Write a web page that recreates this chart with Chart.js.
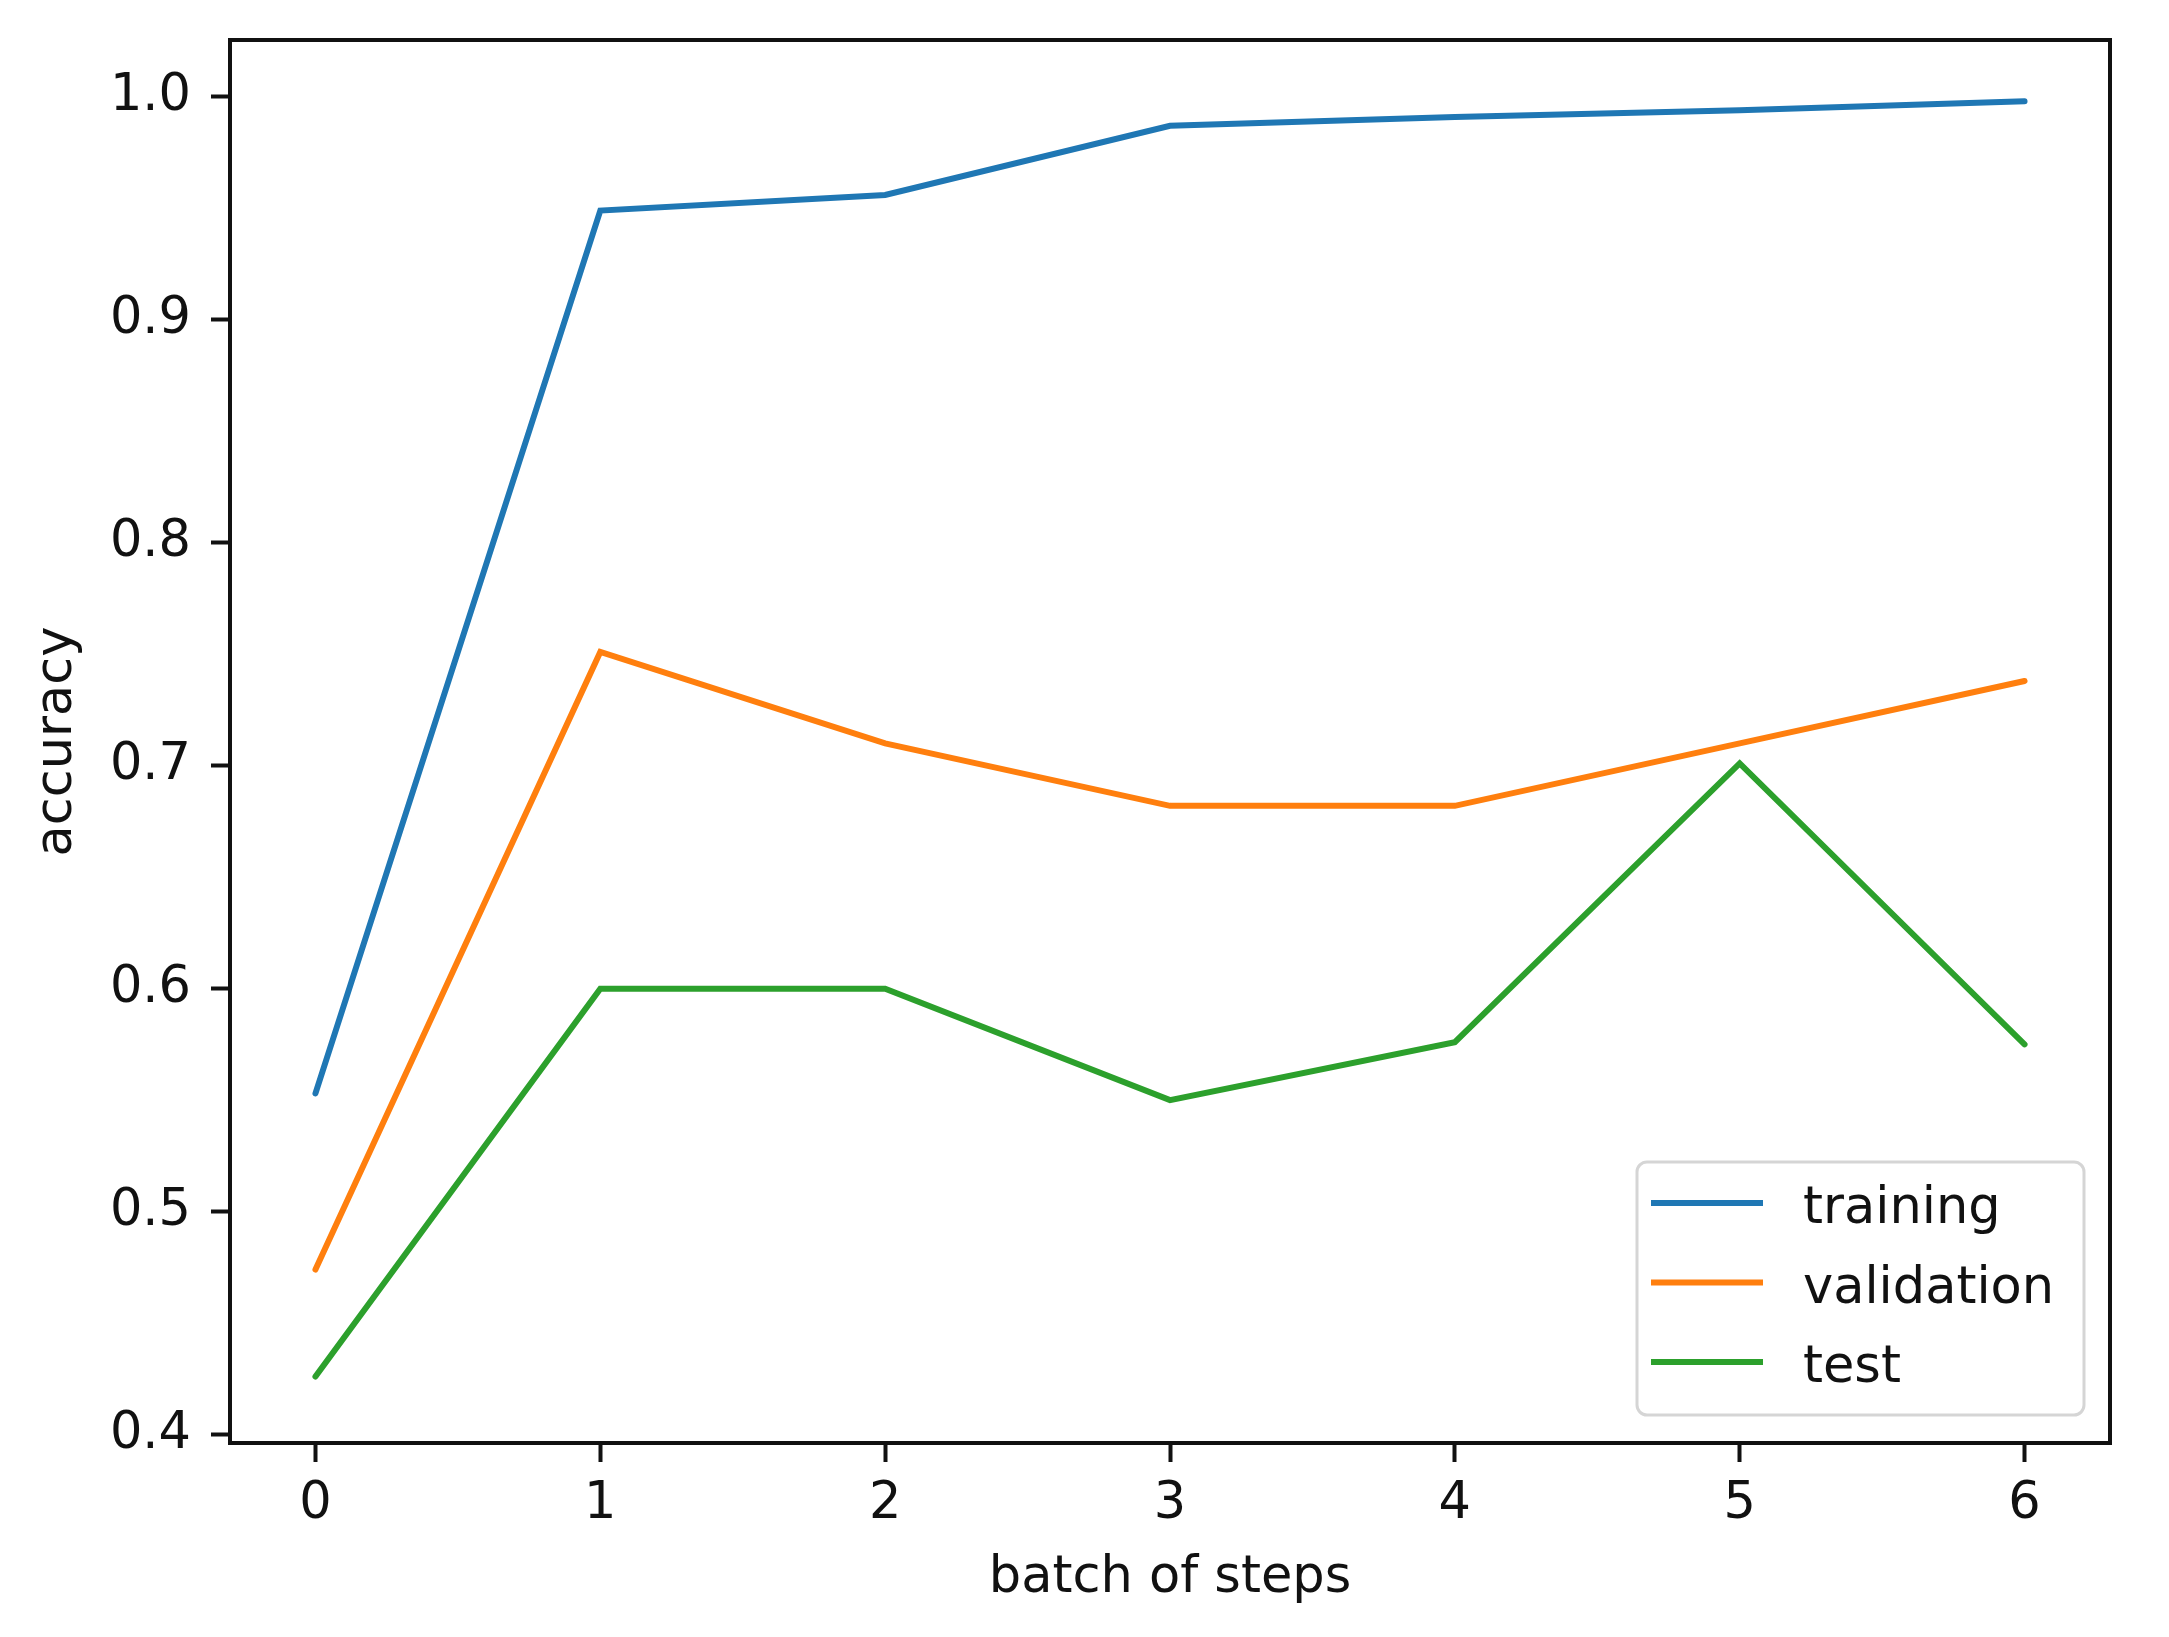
<!DOCTYPE html>
<html lang="en">
<head>
<meta charset="UTF-8">
<title>accuracy</title>
<script src="https://cdn.jsdelivr.net/npm/chart.js"></script>
<style>
  body { margin: 0; background: #fff; }
  canvas { display: block; }
</style>
</head>
<body>
<canvas id="myChart" width="2169" height="1637"></canvas>
<script>
// values
const steps = [0, 1, 2, 3, 4, 5, 6];
const training = [0.553, 0.949, 0.956, 0.987, 0.991, 0.994, 0.998];
const validation = [0.474, 0.751, 0.710, 0.682, 0.682, 0.710, 0.738];
const test = [0.426, 0.600, 0.600, 0.550, 0.576, 0.701, 0.575];
const yTicks = [0.4, 0.5, 0.6, 0.7, 0.8, 0.9, 1.0];

function pts(arr) {
    return steps.map(function (s, i) { return { x: s, y: arr[i] }; });
}

const font = { family: '"DejaVu Sans"', size: 51 };

// box round the plot, like matplotlib spines
const frame = {
    id: 'frame',
    afterDatasetsDraw(chart) {
        const c = chart.ctx, a = chart.chartArea;
        c.save();
        c.strokeStyle = '#111';
        c.lineWidth = 4;
        c.strokeRect(a.left, a.top, a.right - a.left, a.bottom - a.top);
        c.restore();
    }
};

// legend in lower right corner
const legendBox = {
    id: 'legendBox',
    afterDraw(chart) {
        const c = chart.ctx, a = chart.chartArea;
        const w = 447, h = 253;
        const x = a.right - 26 - w, y = a.bottom - 28 - h;
        c.save();
        c.beginPath();
        if (c.roundRect) c.roundRect(x, y, w, h, 10); else c.rect(x, y, w, h);
        c.fillStyle = 'rgba(255,255,255,0.8)';
        c.fill();
        c.strokeStyle = '#d5d5d5';
        c.lineWidth = 3;
        c.stroke();
        c.font = '51px "DejaVu Sans"';
        c.textBaseline = 'alphabetic';
        chart.data.datasets.forEach(function (ds, i) {
            const ry = y + 41 + i * 79.5;
            c.beginPath();
            c.moveTo(x + 14, ry);
            c.lineTo(x + 126, ry);
            c.strokeStyle = ds.borderColor;
            c.lineWidth = 6;
            c.stroke();
            c.fillStyle = '#111';
            c.fillText(ds.label, x + 166, ry + 20);
        });
        c.restore();
    }
};

new Chart(document.getElementById('myChart'), {
    type: 'line',
    data: {
        datasets: [
            { label: 'training', data: pts(training), borderColor: '#1f77b4' },
            { label: 'validation', data: pts(validation), borderColor: '#ff7f0e' },
            { label: 'test', data: pts(test), borderColor: '#2ca02c' }
        ]
    },
    options: {
        responsive: false,
        animation: false,
        devicePixelRatio: 1,
        layout: { padding: { top: 40, right: 59, left: 0, bottom: 0 } },
        plugins: { legend: { display: false }, tooltip: { enabled: false } },
        elements: {
            point: { radius: 0 },
            line: { borderWidth: 6, tension: 0, fill: false, borderCapStyle: 'round' }
        },
        scales: {
            x: {
                type: 'linear',
                min: -0.3,
                max: 6.3,
                afterBuildTicks: function (s) { s.ticks = steps.map(function (v) { return { value: v }; }); },
                afterFit: function (s) { s.height = 194; s.paddingLeft = 0; s.paddingRight = 0; },
                ticks: { font: font, color: '#111', padding: 12, maxRotation: 0, autoSkip: false },
                grid: { drawOnChartArea: false, tickLength: 19, tickWidth: 4, tickColor: '#111' },
                border: { color: '#111', width: 4 },
                title: { display: true, text: 'batch of steps', font: font, color: '#111', padding: { top: 0, bottom: 28 } }
            },
            y: {
                type: 'linear',
                min: 0.3962,
                max: 1.0255,
                afterBuildTicks: function (s) { s.ticks = yTicks.map(function (v) { return { value: v }; }); },
                afterFit: function (s) { s.width = 230; s.paddingTop = 0; s.paddingBottom = 0; },
                ticks: { font: font, color: '#111', padding: 20, callback: function (v) { return v.toFixed(1); } },
                grid: { drawOnChartArea: false, tickLength: 19, tickWidth: 4, tickColor: '#111' },
                border: { color: '#111', width: 4 },
                title: { display: true, text: 'accuracy', font: font, color: '#111', padding: { top: 27, bottom: 0 } }
            }
        }
    },
    plugins: [frame, legendBox]
});
</script>
</body>
</html>
